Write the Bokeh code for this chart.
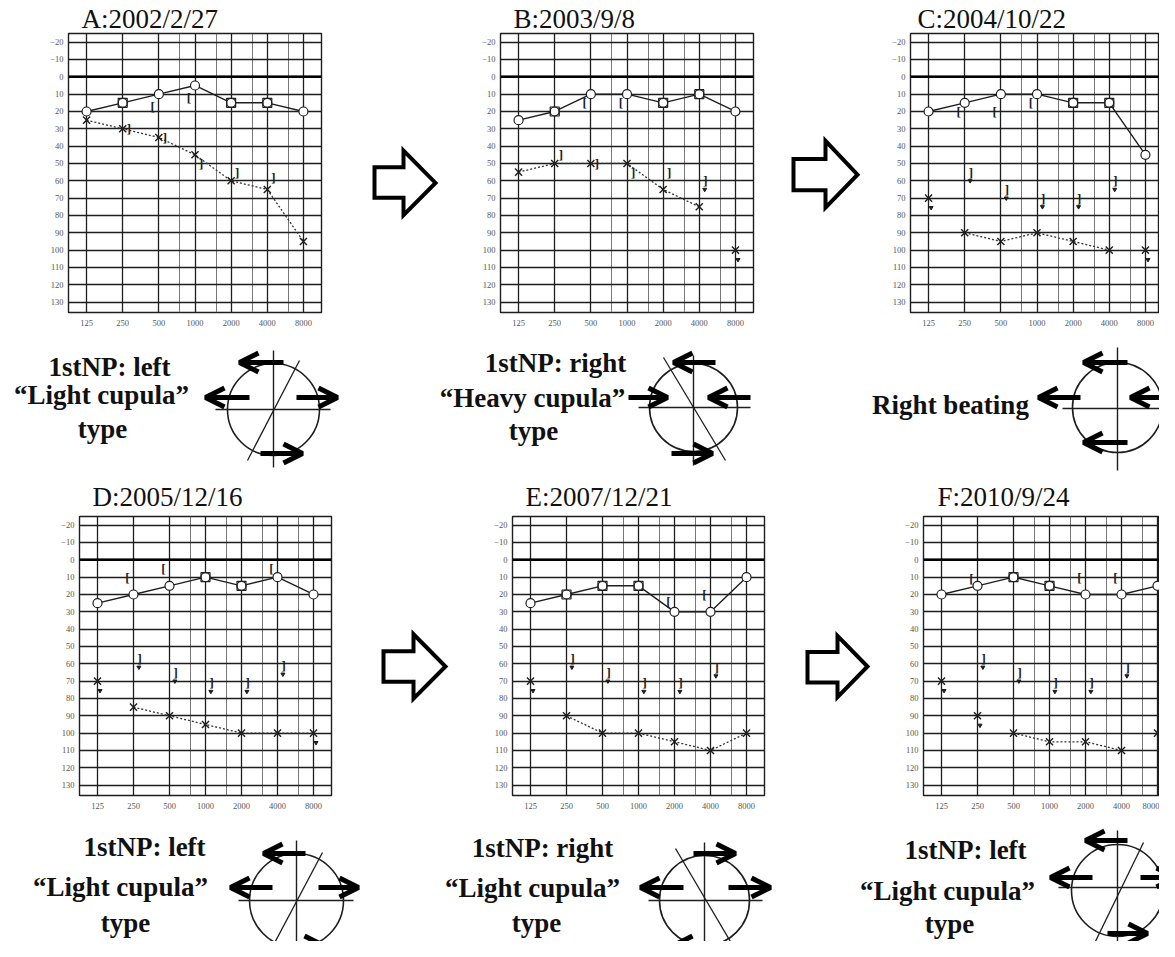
import numpy as np
from bokeh.plotting import figure
from bokeh.models import Range1d, FixedTicker, Span, Arrow, OpenHead
from bokeh.layouts import row, column
from bokeh.embed import file_html
from bokeh.resources import INLINE
from bokeh.core.properties import value

# ---------------- data ----------------
freq_hz = [125, 250, 500, 1000, 2000, 4000, 8000]
freq_labels = ["125", "250", "500", "1000", "2000", "4000", "8000"]
half_octave_hz = [750, 1500, 3000, 6000]
db_ticks = list(range(-20, 140, 10))

titles = ["A:2002/2/27", "B:2003/9/8", "C:2004/10/22",
          "D:2005/12/16", "E:2007/12/21", "F:2010/9/24"]

# right ear air conduction (O, solid)
rac_A = [20, 15, 10, 5, 15, 15, 20]
rac_B = [25, 20, 10, 10, 15, 10, 20]
rac_C = [20, 15, 10, 10, 15, 15, 45]
rac_D = [25, 20, 15, 10, 15, 10, 20]
rac_E = [25, 20, 15, 15, 30, 30, 10]
rac_F = [20, 15, 10, 15, 20, 20, 15]
# frequencies (index) where a square symbol overlays the O
rsq_A = [1, 4, 5]
rsq_B = [1, 4, 5]
rsq_C = [4, 5]
rsq_D = [3, 4]
rsq_E = [1, 2, 3]
rsq_F = [2, 3]
# right bone conduction "["
rbc_A_idx, rbc_A_db = [2, 3], [17, 12]
rbc_B_idx, rbc_B_db = [2, 3], [15, 15]
rbc_C_idx, rbc_C_db = [1, 2, 3], [20, 20, 15]
rbc_D_idx, rbc_D_db = [1, 2, 5], [10, 5, 5]
rbc_E_idx, rbc_E_db = [4, 5], [24, 20]
rbc_F_idx, rbc_F_db = [1, 4, 5], [11, 10, 10]
# left ear air conduction (X, dotted)
lac_A = [25, 30, 35, 45, 60, 65, 95]
lac_B = [55, 50, 50, 50, 65, 75, 100]
lac_C = [70, 90, 95, 90, 95, 100, 100]
lac_D = [70, 85, 90, 95, 100, 100, 100]
lac_E = [70, 90, 100, 100, 105, 110, 100]
lac_F = [70, 90, 100, 105, 105, 110, 100]
# connected range (first, last index) of the left AC line
lac_A_line = [0, 6]
lac_B_line = [0, 5]
lac_C_line = [1, 5]
lac_D_line = [1, 6]
lac_E_line = [1, 6]
lac_F_line = [2, 5]
# left AC points with "no response" mark
lac_A_nr = []
lac_B_nr = [6]
lac_C_nr = [0, 6]
lac_D_nr = [0, 6]
lac_E_nr = [0]
lac_F_nr = [0, 1, 6]
# left bone conduction "]"
lbc_A_idx, lbc_A_db = [1, 2, 3, 4, 5], [30, 35, 50, 55, 58]
lbc_B_idx, lbc_B_db = [1, 2, 3, 4, 5], [45, 50, 55, 55, 60]
lbc_C_idx, lbc_C_db = [1, 2, 3, 4, 5], [55, 65, 70, 70, 60]
lbc_D_idx, lbc_D_db = [1, 2, 3, 4, 5], [57, 65, 71, 71, 61]
lbc_E_idx, lbc_E_db = [1, 2, 3, 4, 5], [57, 65, 71, 71, 62]
lbc_F_idx, lbc_F_db = [1, 2, 3, 4, 5], [57, 65, 71, 71, 62]
lbc_A_nr = []
lbc_B_nr = [5]
lbc_C_nr = [1, 2, 3, 4, 5]
lbc_D_nr = [1, 2, 3, 4, 5]
lbc_E_nr = [1, 2, 3, 4, 5]
lbc_F_nr = [1, 2, 3, 4, 5]

# diagram texts (x centre, y centre, text)
texts_top = [
    (109, 366, "1stNP: left"), (101, 394, "“Light cupula”"), (102, 428, "type"),
    (555, 362, "1stNP: right"), (532, 397, "“Heavy cupula”"), (533, 430, "type"),
    (950, 404, "Right beating"),
]
texts_bottom = [
    (144, 846, "1stNP: left"), (120, 886, "“Light cupula”"), (125, 922, "type"),
    (542, 847, "1stNP: right"), (532, 887, "“Light cupula”"), (536, 922, "type"),
    (965, 849, "1stNP: left"), (947, 890, "“Light cupula”"), (949, 923, "type"),
]

# ---------------- layout geometry (page pixel coordinates) ----------------
diag_top = [
    dict(c=(273, 409, 46), h=(215, 330, 409), v=(273, 350, 467), d=(247, 460, 299, 360),
         arrows=[(283, 362, 239, 362), (249, 397, 205, 397), (296, 397, 337, 397), (260, 453, 302, 453)]),
    dict(c=(693, 407, 44), h=(638, 750, 407), v=(693, 355, 465), d=(663, 357, 725, 460),
         arrows=[(715, 362, 673, 362), (628, 397, 667, 397), (750, 397, 708, 397), (671, 453, 712, 453)]),
    dict(c=(1117, 407, 45), h=(1062, 1175, 408), v=(1117, 347, 470), d=None,
         arrows=[(1127, 362, 1083, 362), (1080, 397, 1038, 397), (1175, 397, 1130, 397), (1127, 442, 1083, 442)]),
]
diag_bottom = [
    dict(c=(296, 900, 47), h=(238, 353, 900), v=(296, 840, 957), d=(322, 852, 269, 952),
         arrows=[(305, 853, 263, 853), (272, 887, 230, 887), (318, 887, 358, 887), (283, 945, 323, 945)]),
    dict(c=(704, 900, 45), h=(648, 762, 900), v=(704, 842, 957), d=(675, 848, 737, 953),
         arrows=[(693, 853, 735, 853), (683, 887, 640, 887), (728, 887, 770, 887), (715, 945, 673, 945)]),
    dict(c=(1117, 890, 46), h=(1058, 1175, 887), v=(1117, 830, 957), d=(1143, 842, 1092, 947),
         arrows=[(1127, 840, 1085, 840), (1092, 877, 1050, 877), (1140, 877, 1175, 877), (1107, 933, 1147, 933)]),
]
block_arrows = [
    (374, 403, 435, 142, 162, 181, 199, 220),
    (793, 825, 857, 130, 152, 171, 190, 211),
    (383, 413, 445, 620, 641, 660, 679, 700),
    (807, 837, 867, 622, 642, 660, 680, 698),
]

FRAME_H = 279
SERIF = value("Liberation Serif")
INK = "#1e1e1e"
PAGE_W = 1159


def audiogram(title, rac, rsq, rbc_i, rbc_d, lac, lac_line, lac_nr, lbc_i, lbc_d, lbc_nr,
              frame_w, borders, unit_px, title_standoff, title_offset):
    l, r, t, b = borders
    xmax = -0.5 + frame_w / unit_px
    p = figure(frame_width=frame_w, frame_height=FRAME_H,
               min_border_left=l, min_border_right=r, min_border_top=t, min_border_bottom=b,
               x_range=Range1d(-0.5, xmax), y_range=Range1d(136, -25),
               output_backend="svg", toolbar_location=None, tools="", title=title)
    p.title.text_font = "Liberation Serif"
    p.title.text_font_size = "27px"
    p.title.text_font_style = "normal"
    p.title.text_color = "#111111"
    p.title.align = "left"
    p.title.offset = title_offset
    p.title.standoff = title_standoff
    p.outline_line_color = INK
    p.outline_line_width = 1.4
    x_all = np.log2(np.array(freq_hz) / 125.0)
    minor = list(np.log2(np.array(half_octave_hz) / 125.0))
    p.xaxis.ticker = FixedTicker(ticks=list(x_all), minor_ticks=minor)
    p.xaxis.major_label_overrides = {float(x): s for x, s in zip(x_all, freq_labels)}
    p.yaxis.ticker = FixedTicker(ticks=db_ticks)
    for ax in (p.xaxis, p.yaxis):
        ax.axis_line_color = None
        ax.major_tick_line_color = None
        ax.minor_tick_line_color = None
        ax.major_tick_out = 0
        ax.major_tick_in = 0
        ax.minor_tick_out = 0
        ax.major_label_text_font = "Liberation Serif"
        ax.major_label_text_font_size = "8.5px"
        ax.major_label_text_color = "#555555"
    p.xaxis.major_label_standoff = 7
    p.yaxis.major_label_standoff = 5
    p.xgrid.grid_line_color = INK
    p.xgrid.grid_line_width = 1.3
    p.xgrid.minor_grid_line_color = "#555555"
    p.xgrid.minor_grid_line_width = 0.8
    p.ygrid.grid_line_color = INK
    p.ygrid.grid_line_width = 1.3
    p.add_layout(Span(location=0, dimension="width", line_color="black", line_width=2.4))

    rac = np.array(rac, dtype=float)
    lac = np.array(lac, dtype=float)
    # left AC (dotted)
    a, e = lac_line
    p.line(x_all[a:e + 1], lac[a:e + 1], line_color="#333333", line_width=1.3, line_dash="2 2")
    p.scatter(x_all, lac, marker="x", size=10, line_color=INK, line_width=1.4)
    if lac_nr:
        nr = np.array(lac_nr)
        p.scatter(x_all[nr] + 0.07, lac[nr] + 5.5, marker="inverted_triangle", size=4,
                  color=INK)
    # right AC (solid)
    p.line(x_all, rac, line_color=INK, line_width=1.4)
    p.scatter(x_all, rac, marker="circle", size=9, fill_color="white", line_color=INK, line_width=1.2)
    if rsq:
        sq = np.array(rsq)
        p.scatter(x_all[sq], rac[sq], marker="square", size=9, fill_color=None,
                  line_color=INK, line_width=1.2)
    # bone conduction
    if rbc_i:
        p.text(x=x_all[np.array(rbc_i)] - 0.17, y=rbc_d, text=["["] * len(rbc_i),
               text_font=SERIF, text_font_size="13px", text_font_style="bold",
               text_align="center", text_baseline="middle", text_color=INK)
    if lbc_i:
        p.text(x=x_all[np.array(lbc_i)] + 0.17, y=lbc_d, text=["]"] * len(lbc_i),
               text_font=SERIF, text_font_size="13px", text_font_style="bold",
               text_align="center", text_baseline="middle", text_color=INK)
        if lbc_nr:
            lk = {k: v for k, v in zip(lbc_i, lbc_d)}
            nx = [x_all[k] + 0.15 for k in lbc_nr]
            ny = [lk[k] + 5 for k in lbc_nr]
            p.scatter(nx, ny, marker="inverted_triangle", size=4, color=INK)
    return p


def canvas(x0, x1, y0, y1):
    p = figure(width=int(x1 - x0), height=int(y1 - y0), x_range=Range1d(x0, x1),
               y_range=Range1d(y1, y0), min_border=0, x_axis_location=None,
               y_axis_location=None, output_backend="svg", toolbar_location=None, tools="")
    p.grid.visible = False
    p.outline_line_color = None
    return p


def block_arrow(p, spec):
    xs0, xb, xt, ytop, ys0, yc, ys1, ybot = spec
    p.patch([xs0, xb, xb, xt, xb, xb, xs0], [ys0, ys0, ytop, yc, ybot, ys1, ys1],
            fill_color="white", line_color="black", line_width=4, line_join="miter")


def diagrams(p, specs, texts):
    for s in specs:
        cx, cy, r = s["c"]
        p.circle(x=[cx], y=[cy], radius=r, fill_color=None, line_color=INK, line_width=1.6)
        hx0, hx1, hy = s["h"]
        vx, vy0, vy1 = s["v"]
        p.segment(x0=[hx0, vx], y0=[hy, vy0], x1=[hx1, vx], y1=[hy, vy1], line_color=INK, line_width=1.4)
        if s["d"]:
            dx0, dy0, dx1, dy1 = s["d"]
            p.segment(x0=[dx0], y0=[dy0], x1=[dx1], y1=[dy1], line_color=INK, line_width=1.3)
        for (x0, y0, x1, y1) in s["arrows"]:
            p.add_layout(Arrow(x_start=x0, y_start=y0, x_end=x1, y_end=y1, line_width=5,
                               line_color="black",
                               end=OpenHead(size=19, line_width=5, line_color="black")))
    tx, ty, tt = zip(*texts)
    p.text(x=list(tx), y=list(ty), text=list(tt), text_font=SERIF, text_font_style="bold",
           text_font_size="27px", text_align="center", text_baseline="middle", text_color="#111111")


# ---------------- build ----------------
U1 = 253 / 7.0
U2 = 252 / 7.0
pA = audiogram(titles[0], rac_A, rsq_A, rbc_A_idx, rbc_A_db, lac_A, lac_A_line, lac_A_nr,
               lbc_A_idx, lbc_A_db, lbc_A_nr, 253, (68, 27, 33, 26), U1, 0, 13)
pB = audiogram(titles[1], rac_B, rsq_B, rbc_B_idx, rbc_B_db, lac_B, lac_B_line, lac_B_nr,
               lbc_B_idx, lbc_B_db, lbc_B_nr, 253, (52, 25, 33, 26), U1, 0, 13)
pC = audiogram(titles[2], rac_C, rsq_C, rbc_C_idx, rbc_C_db, lac_C, lac_C_line, lac_C_nr,
               lbc_C_idx, lbc_C_db, lbc_C_nr, 249, (22, 0, 33, 26), U1, 0, 7)
pD = audiogram(titles[3], rac_D, rsq_D, rbc_D_idx, rbc_D_db, lac_D, lac_D_line, lac_D_nr,
               lbc_D_idx, lbc_D_db, lbc_D_nr, 252, (79, 22, 42, 25), U2, 10, 13)
pE = audiogram(titles[4], rac_E, rsq_E, rbc_E_idx, rbc_E_db, lac_E, lac_E_line, lac_E_nr,
               lbc_E_idx, lbc_E_db, lbc_E_nr, 252, (44, 24, 42, 25), U2, 10, 13)
pF = audiogram(titles[5], rac_F, rsq_F, rbc_F_idx, rbc_F_db, lac_F, lac_F_line, lac_F_nr,
               lbc_F_idx, lbc_F_db, lbc_F_nr, 236, (25, 0, 42, 25), U2, 10, 14)

a1 = canvas(348, 448, 0, 338)
block_arrow(a1, block_arrows[0])
a2 = canvas(778, 888, 0, 338)
block_arrow(a2, block_arrows[1])
a3 = canvas(353, 468, 474, 820)
block_arrow(a3, block_arrows[2])
a4 = canvas(788, 898, 474, 820)
block_arrow(a4, block_arrows[3])

d1 = canvas(0, PAGE_W, 338, 474)
diagrams(d1, diag_top, texts_top)
d2 = canvas(0, PAGE_W, 820, 941)
diagrams(d2, diag_bottom, texts_bottom)

layout = column(row(pA, a1, pB, a2, pC), d1, row(pD, a3, pE, a4, pF), d2)

open("out.html", "w").write(file_html(layout, INLINE))
